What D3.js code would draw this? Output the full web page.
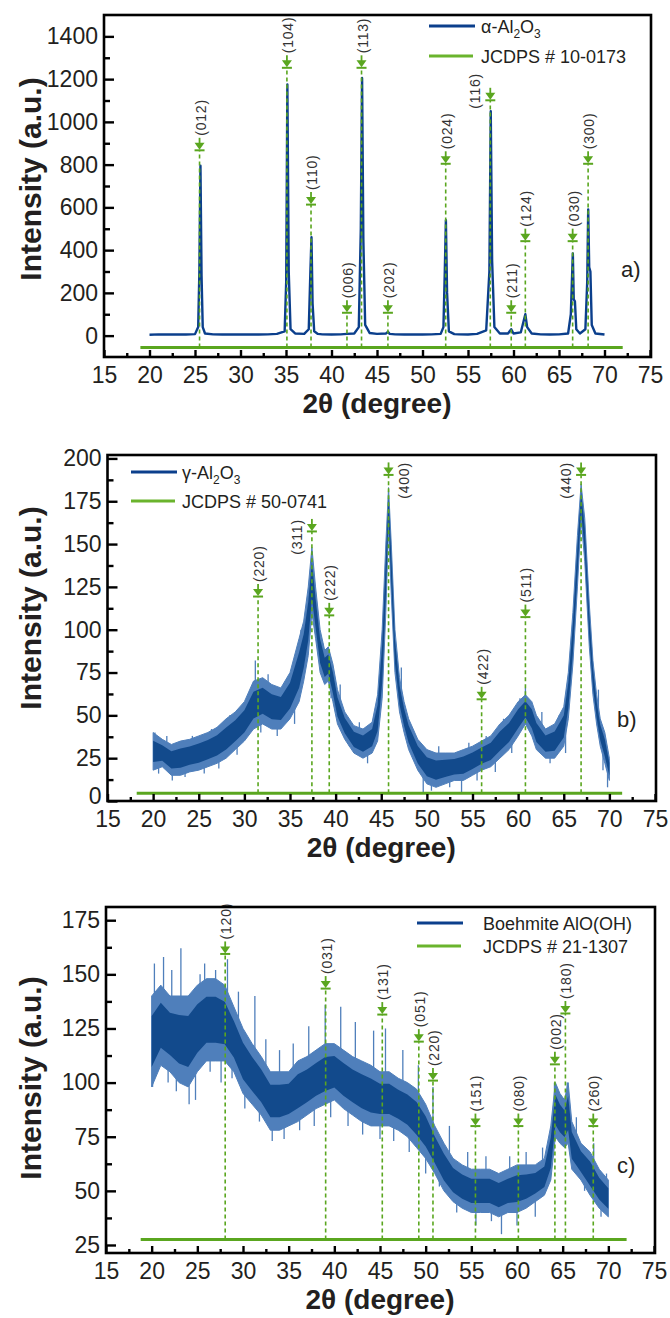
<!DOCTYPE html>
<html>
<head>
<meta charset="utf-8">
<script src="https://cdn.jsdelivr.net/npm/d3@7"></script>
<style>
body { margin: 0; background: #fff; }
svg text { font-family: "Liberation Sans", Arial, sans-serif; fill: #231f20; }
</style>
</head>
<body>
<svg id="chart" width="670" height="1318"></svg>
<script>
// x axis (2theta) ticks, shared by the three panels
const thetaTicks = [15, 20, 25, 30, 35, 40, 45, 50, 55, 60, 65, 70, 75]
const thetaMinor = [17.5, 22.5, 27.5, 32.5, 37.5, 42.5, 47.5, 52.5, 57.5, 62.5, 67.5, 72.5]

// a) alpha-Al2O3 : measured pattern [2theta, intensity]
const alphaPattern = [[20,4],[21,6],[22,5],[23,6],[24,5],[25,7],[25.35,40],[25.48,300],[25.6,795],[25.72,280],[25.85,40],[26.1,10],[27,6],[28,5],[29,6],[30,5],[31,6],[32,5],[33,6],[34,8],[34.85,20],[35.02,250],[35.15,1175],[35.3,300],[35.5,30],[36,10],[37,8],[37.5,30],[37.68,300],[37.8,460],[37.92,150],[38.1,20],[38.5,8],[39,6],[40,5],[41,6],[41.7,8],[42.5,10],[43,40],[43.22,500],[43.36,1205],[43.5,450],[43.7,50],[44.2,12],[45,8],[46,10],[46.2,18],[46.4,8],[47,6],[48,5],[49,6],[50,5],[51,6],[52,8],[52.3,40],[52.45,300],[52.57,540],[52.7,200],[52.9,20],[53.5,7],[54,6],[55,5],[56,8],[57,25],[57.35,300],[57.5,1050],[57.65,350],[57.9,40],[58.5,10],[59.4,10],[59.75,30],[60,10],[60.8,15],[61.3,100],[61.5,40],[62,10],[63,6],[64,5],[65,6],[66,10],[66.3,100],[66.52,385],[66.62,170],[66.75,160],[66.9,30],[67.3,10],[67.9,30],[68.1,250],[68.21,590],[68.32,320],[68.45,300],[68.6,50],[69,10],[70,5]]
const alphaRefTheta = [25.5, 35.1, 37.75, 41.7, 43.3, 46.2, 52.55, 57.45, 59.75, 61.3, 66.5, 68.2]
const alphaRefMark = [888, 1274, 634, 128, 1274, 128, 825, 1122, 128, 463, 463, 825]
const alphaHkl = ['(012)', '(104)', '(110)', '(006)', '(113)', '(202)', '(024)', '(116)', '(211)', '(124)', '(030)', '(300)']
const alphaSide = ['a', 'a', 'a', 'a', 'a', 'a', 'a', 'l', 'a', 'a', 'a', 'a']
const alphaYTicks = [0, 200, 400, 600, 800, 1000, 1200, 1400]
const alphaYMinor = [100, 300, 500, 700, 900, 1100, 1300]

// b) gamma-Al2O3 : noisy pattern, read as a lower / upper envelope plus the visible spikes
const gammaTheta = [20,21,22,23,24,25,26,27,28,29,30,31,32,33,34,35,36,36.5,37,37.4,37.8,38.3,38.8,39.2,39.7,40.2,41,42,43,44,44.6,45.1,45.5,45.8,46.1,46.5,47,47.5,48,49,50,51,52,53,54,55,56,57,58,59,60,60.8,61.5,62,63,64,65,65.5,66,66.5,66.9,67.3,67.8,68.2,68.6,69,69.5,70]
const gammaLow = [18,20,15,15,17,18,20,22,25,30,35,42,45,42,42,48,58,70,85,110,95,75,68,70,58,45,36,28,25,28,35,60,110,160,120,75,52,40,30,18,10,8,10,12,12,15,18,20,25,30,38,45,38,30,25,25,32,48,80,125,165,140,90,62,45,32,22,12]
const gammaHigh = [40,36,33,35,36,38,40,43,48,52,58,70,72,68,66,75,95,105,125,148,125,100,88,90,80,65,52,44,42,46,62,100,150,183,150,100,72,58,48,36,30,28,28,28,30,32,35,38,45,50,58,62,58,50,42,45,55,75,110,155,185,165,115,82,62,48,40,25]
const gammaSpikes = [[20.2,40],[20.6,16],[21.5,38],[22.1,12],[23.5,14],[24.3,38],[25.6,16],[26.4,42],[27.2,19],[28.4,50],[29.2,27],[30.3,60],[31.2,82],[31.8,40],[32.6,74],[33.6,38],[34.5,70],[35.5,45],[36.2,100],[36.8,108],[38.6,92],[39.5,60],[40.5,68],[41.5,32],[42.6,46],[43.5,22],[44.2,50],[47.2,78],[48.5,26],[49.6,5],[50.5,6],[51.3,32],[52.5,8],[53.8,5],[54.6,34],[55.5,12],[56.5,38],[57.5,17],[58.4,48],[59.3,28],[60.2,60],[60.8,66],[61.8,36],[62.6,52],[63.5,22],[64.5,50],[65.2,28],[68.8,65],[69.3,18],[69.8,8]]
const gammaRefTheta = [31.5, 37.4, 39.3, 45.8, 56.0, 60.8, 66.9]
const gammaRefMark = [122, 160, 111, 193, 62, 110, 193]
const gammaHkl = ['(220)', '(311)', '(222)', '(400)', '(422)', '(511)', '(440)']
const gammaSide = ['a', 'l', 'a', 'r', 'a', 'a', 'l']
const gammaYTicks = [0, 25, 50, 75, 100, 125, 150, 175, 200]
const gammaYMinor = [12.5, 37.5, 62.5, 87.5, 112.5, 137.5, 162.5, 187.5]

// c) Boehmite AlO(OH)
const boehmiteTheta = [20,21,22,23,24,25,26,27,28,29,30,31,32,33,34,35,36,37,38,39,40,41,42,43,44,45,46,47,48,49,50,51,52,53,54,55,56,57,58,59,60,61,62,63,63.7,64.2,64.7,65.2,65.6,66,67,68,69,70]
const boehmiteLow = [98,108,105,100,98,105,110,110,110,105,95,90,85,78,78,80,82,85,88,90,92,88,85,82,80,80,80,78,75,70,65,58,50,45,42,40,40,40,38,40,40,42,45,48,55,75,72,70,72,60,55,48,42,38]
const boehmiteHigh = [140,145,140,140,140,145,148,148,145,135,125,118,112,105,105,105,110,112,115,118,118,115,112,110,108,105,105,102,100,97,90,80,72,65,62,60,60,60,58,60,62,62,62,65,80,100,95,92,100,82,72,68,60,55]
const boehmiteSpikes = [[20.3,155],[20.1,98],[20.8,112],[21.3,158],[21.8,100],[22.2,152],[22.7,96],[23.2,162],[24.1,90],[24.8,92],[25.3,150],[25.8,155],[26.4,105],[27,152],[27.6,100],[28.3,157],[28.8,102],[29.5,142],[30.2,88],[31.3,140],[31.8,82],[32.5,120],[33.2,73],[34,115],[34.5,74],[35.5,118],[36.2,78],[37.2,126],[37.8,80],[39,136],[39.6,84],[40.7,135],[41.5,80],[42.3,128],[43.1,76],[44.3,124],[45,74],[45.6,125],[46.5,73],[47.5,115],[48.2,68],[49.2,108],[50,58],[50.8,98],[51.5,52],[52.6,80],[53.4,40],[54.6,68],[55.5,34],[56.6,66],[57.2,36],[58.3,30],[59.2,66],[60,34],[61,68],[62,38],[62.8,70],[64.1,100],[65.5,100],[66.5,84],[67.4,50],[68.4,72],[69.2,38],[69.8,58]]
const boehmiteRefTheta = [28.05, 39.05, 45.25, 49.25, 50.8, 55.45, 60.15, 64.15, 65.3, 68.35]
const boehmiteRefMark = [161.5, 145.5, 133.5, 121, 103, 82, 82, 110.5, 134, 82]
const boehmiteHkl = ['(120)', '(031)', '(131)', '(051)', '(220)', '(151)', '(080)', '(002)', '(180)', '(260)']
const boehmiteSide = ['a', 'a', 'a', 'a', 'a', 'a', 'a', 'a', 'a', 'a']
const boehmiteYTicks = [25, 50, 75, 100, 125, 150, 175]
const boehmiteYMinor = [37.5, 62.5, 87.5, 112.5, 137.5, 162.5]

const BLUE = '#0b3f8c'
const BAND = '#4f7fbb'
const CORE = '#124a8c'
const GREEN = '#5aa61f'

const svg = d3.select('#chart')

function panel(c) {
    const x = d3.scaleLinear().domain([15, 75]).range(c.xr)
    const y = d3.scaleLinear().domain(c.yd).range(c.yr)
    const g = svg.append('g')

    // measured pattern
    if (c.points) {
        g.append('path').datum(c.points)
            .attr('d', d3.line().x(d => x(d[0])).y(d => y(d[1])))
            .attr('fill', 'none').attr('stroke', BLUE).attr('stroke-width', 2.4)
            .attr('stroke-linejoin', 'round')
    } else {
        const rows = d3.zip(c.theta, c.low, c.high)
        const mid = d3.scaleLinear().domain(c.theta).range(c.theta.map((t, i) => (c.low[i] + c.high[i]) / 2))
        g.selectAll('.spike').data(c.spikes).enter().append('line')
            .attr('x1', d => x(d[0])).attr('x2', d => x(d[0]))
            .attr('y1', d => y(mid(d[0]))).attr('y2', d => y(d[1]))
            .attr('stroke', BAND).attr('stroke-width', 1.3)
        g.append('path').datum(rows)
            .attr('d', d3.area().x(d => x(d[0])).y0(d => y(d[1])).y1(d => y(d[2])))
            .attr('fill', BAND).attr('stroke', BAND).attr('stroke-width', 1)
        g.append('path').datum(rows)
            .attr('d', d3.area().x(d => x(d[0]))
                .y0(d => y(d[1] + (d[2] - d[1]) * 0.22))
                .y1(d => y(d[2] - (d[2] - d[1]) * 0.22)))
            .attr('fill', CORE)
    }

    // JCPDS reference lines
    g.append('line')
        .attr('x1', x(c.refSpan[0])).attr('x2', x(c.refSpan[1]))
        .attr('y1', y(c.refLevel)).attr('y2', y(c.refLevel))
        .attr('stroke', GREEN).attr('stroke-width', 3)
    const refs = c.refTheta.map((t, i) => ({ t: t, m: c.refMark[i], hkl: c.hkl[i], side: c.side[i] }))
    g.selectAll('.drop').data(refs).enter().append('line')
        .attr('x1', d => x(d.t)).attr('x2', d => x(d.t))
        .attr('y1', y(c.refLevel)).attr('y2', d => y(d.m) + 5)
        .attr('stroke', GREEN).attr('stroke-width', 1.6).attr('stroke-dasharray', '4,3')
    const mk = g.selectAll('.mark').data(refs).enter().append('g')
        .attr('transform', d => `translate(${x(d.t)},${y(d.m)})`)
    mk.append('line').attr('x1', 0).attr('x2', 0).attr('y1', -8).attr('y2', -2)
        .attr('stroke', GREEN).attr('stroke-width', 1.8)
    mk.append('path').attr('d', 'M-5,-3L5,-3L0,4Z').attr('fill', GREEN)
    mk.append('line').attr('x1', -5).attr('x2', 5).attr('y1', 4.5).attr('y2', 4.5)
        .attr('stroke', GREEN).attr('stroke-width', 2)

    g.selectAll('.hkl').data(refs).enter().append('text')
        .attr('transform', d => {
            if (d.side === 'a') return `translate(${x(d.t) + 1},${y(d.m) - 10}) rotate(-90)`
            const dx = d.side === 'l' ? -15 : 15
            return `translate(${x(d.t) + dx},${y(d.m) + c.sideShift}) rotate(-90)`
        })
        .attr('text-anchor', d => d.side === 'a' ? 'start' : 'middle')
        .attr('dominant-baseline', 'central')
        .style('font-size', '14px').style('letter-spacing', '0.8px').style('fill', '#333')
        .text(d => d.hkl)

    // frame
    g.append('rect')
        .attr('x', c.xr[0]).attr('y', c.yr[1])
        .attr('width', c.xr[1] - c.xr[0] + 1).attr('height', c.yr[0] - c.yr[1])
        .attr('fill', 'none').attr('stroke', '#000').attr('stroke-width', 2.6)

    // axes with inward ticks
    const style = sel => {
        sel.select('.domain').remove()
        sel.selectAll('line').attr('stroke', '#000').attr('stroke-width', 2.4)
        sel.selectAll('text').style('font-size', '23px').style('font-family', '"Liberation Sans", Arial, sans-serif').attr('fill', '#231f20')
    }
    const yAx = g.append('g').attr('transform', `translate(${c.xr[0]},0)`)
        .call(d3.axisLeft(y).tickValues(c.yTicks).tickSize(-10).tickPadding(6).tickFormat(d => String(d))).call(style)
    // lowest label sits just above the frame corner, as in the figure
    yAx.selectAll('text').filter(d => d === c.yd[0]).attr('dy', '0.1em')
    g.append('g').attr('transform', `translate(${c.xr[0]},0)`)
        .call(d3.axisLeft(y).tickValues(c.yMinor).tickSize(-6).tickFormat('')).call(style)
    g.append('g').attr('transform', `translate(0,${c.yr[0]})`)
        .call(d3.axisBottom(x).tickValues(thetaTicks).tickSize(-7).tickPadding(10)).call(style)
    g.append('g').attr('transform', `translate(0,${c.yr[0]})`)
        .call(d3.axisBottom(x).tickValues(thetaMinor).tickSize(-4).tickFormat('')).call(style)

    // axis titles
    g.append('text')
        .attr('x', (c.xr[0] + c.xr[1]) / 2).attr('y', c.yr[0] + 56)
        .attr('text-anchor', 'middle')
        .style('font-size', '28px').style('font-weight', 'bold')
        .text('2θ (degree)')
    g.append('text')
        .attr('transform', `translate(30,${c.yTitleY}) rotate(-90)`)
        .attr('text-anchor', 'middle').attr('dominant-baseline', 'central')
        .style('font-size', '30px').style('font-weight', 'bold')
        .text('Intensity (a.u.)')

    // legend
    const lg = g.append('g').attr('transform', `translate(${c.legend[0]},${c.legend[1]})`)
    lg.append('line').attr('x1', 0).attr('x2', 46).attr('y1', 0).attr('y2', 0)
        .attr('stroke', BLUE).attr('stroke-width', 3)
    lg.append('line').attr('x1', 0).attr('x2', 44).attr('y1', c.legendGap).attr('y2', c.legendGap)
        .attr('stroke', '#6ab42d').attr('stroke-width', 3)
    const t1 = lg.append('text').attr('x', c.legendText).attr('y', 7).style('font-size', '18px')
    c.sampleName.forEach(part => {
        if (part.sub) t1.append('tspan').attr('dy', 5).style('font-size', '12px').text(part.sub)
        else t1.append('tspan').attr('dy', part.up ? -5 : 0).text(part.text)
    })
    lg.append('text').attr('x', c.legendText).attr('y', c.legendGap + 7).style('font-size', '18px')
        .text(c.refName)

    g.append('text').attr('x', c.tag[0]).attr('y', c.tag[1])
        .style('font-size', '22px').text(c.tagText)
}

panel({
    xr: [104, 650], yr: [357, 15], yd: [-100, 1500],
    yTicks: alphaYTicks, yMinor: alphaYMinor,
    points: alphaPattern,
    refTheta: alphaRefTheta, refMark: alphaRefMark, hkl: alphaHkl, side: alphaSide,
    refLevel: -55, refSpan: [19, 72], sideShift: -5,
    yTitleY: 179,
    legend: [429, 26], legendGap: 30, legendText: 52,
    sampleName: [{ text: 'α-Al' }, { sub: '2' }, { text: 'O', up: true }, { sub: '3' }],
    refName: 'JCDPS # 10-0173',
    tag: [621, 277], tagText: 'a)'
})

panel({
    xr: [107.5, 655], yr: [801, 455], yd: [0, 202],
    yTicks: gammaYTicks, yMinor: gammaYMinor,
    theta: gammaTheta, low: gammaLow, high: gammaHigh, spikes: gammaSpikes,
    refTheta: gammaRefTheta, refMark: gammaRefMark, hkl: gammaHkl, side: gammaSide,
    refLevel: 4.5, refSpan: [18.2, 71.4], sideShift: 10,
    yTitleY: 608,
    legend: [131, 472], legendGap: 29, legendText: 51,
    sampleName: [{ text: 'γ-Al' }, { sub: '2' }, { text: 'O', up: true }, { sub: '3' }],
    refName: 'JCDPS # 50-0741',
    tag: [617, 727], tagText: 'b)'
})

panel({
    xr: [106, 654], yr: [1253, 907], yd: [21.3, 181.1],
    yTicks: boehmiteYTicks, yMinor: boehmiteYMinor,
    theta: boehmiteTheta, low: boehmiteLow, high: boehmiteHigh, spikes: boehmiteSpikes,
    refTheta: boehmiteRefTheta, refMark: boehmiteRefMark, hkl: boehmiteHkl, side: boehmiteSide,
    refLevel: 27.5, refSpan: [18.8, 72], sideShift: 10,
    yTitleY: 1078,
    legend: [417, 923], legendGap: 23, legendText: 66,
    sampleName: [{ text: 'Boehmite AlO(OH)' }],
    refName: 'JCDPS # 21-1307',
    tag: [617, 1173], tagText: 'c)'
})
</script>
</body>
</html>
